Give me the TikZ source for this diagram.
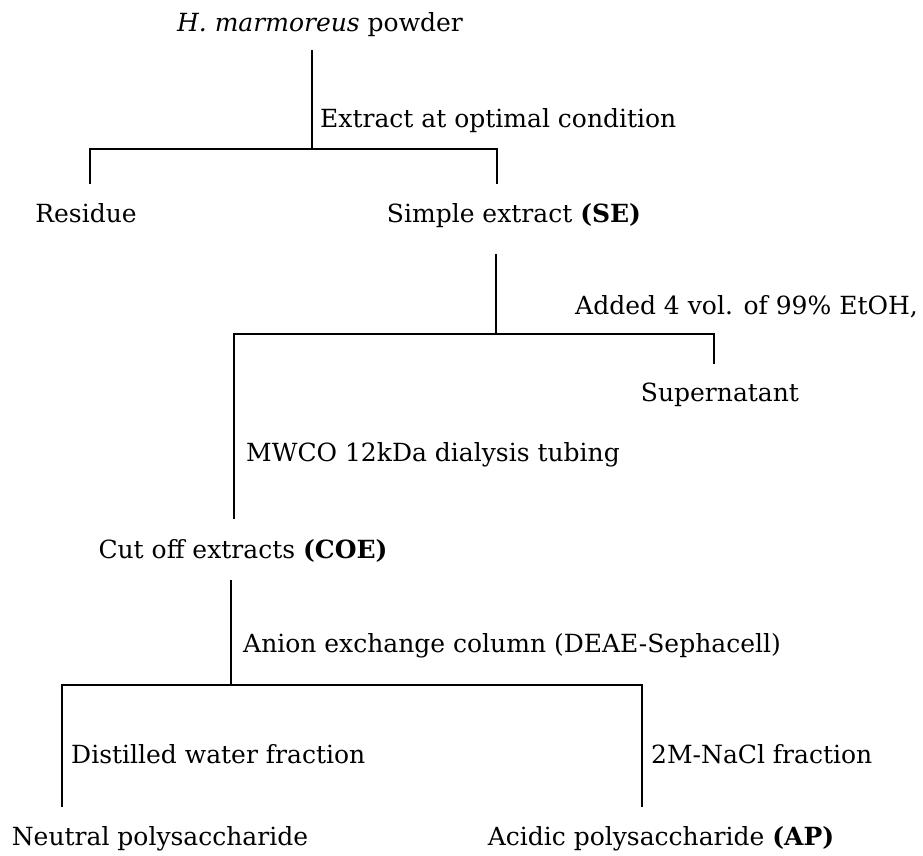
\documentclass[tikz,border=0pt]{standalone}
\usepackage{fontspec}
\setmainfont{DejaVu Serif}
\begin{document}
\begin{tikzpicture}[x=1pt,y=-1pt,
  txt/.style={inner sep=0pt, font=\fontsize{25}{29}\selectfont},
  lbl/.style={txt, anchor=base west},
  item/.style={txt, anchor=base},
  ln/.style={line width=1.6pt, line cap=butt}]
\useasboundingbox (0,0) rectangle (923,855);
% nodes
\node[item] (hm)  at (320,31)  {\textit{H. marmoreus} powder};
\node[lbl]  (ext) at (320,127) {Extract at optimal condition};
\node[item] (res) at (86,222)  {Residue};
\node[item] (se)  at (514,222) {Simple extract \textbf{(SE)}};
\node[lbl]  (eth) at (575,314) {Added 4 vol. of 99\% EtOH,};
\node[item] (sup) at (720,401) {Supernatant};
\node[lbl]  (mw)  at (246,461) {MWCO 12kDa dialysis tubing};
\node[item] (coe) at (243,558) {Cut off extracts \textbf{(COE)}};
\node[lbl]  (ani) at (243,652) {Anion exchange column (DEAE-Sephacell)};
\node[lbl]  (dw)  at (71,763)  {Distilled water fraction};
\node[lbl]  (na)  at (651,763) {2M-NaCl fraction};
\node[item] (np)  at (160,845) {Neutral polysaccharide};
\node[item] (ap)  at (661,845) {Acidic polysaccharide \textbf{(AP)}};
% junction coordinates
\coordinate (a0) at (312,50);
\coordinate (a1) at (312,149);
\coordinate (aL) at (90,149);
\coordinate (aR) at (497,149);
\coordinate (aLd) at (90,184);
\coordinate (aRd) at (497,184);
\coordinate (b0) at (496,254);
\coordinate (b1) at (496,334);
\coordinate (bL) at (234,334);
\coordinate (bR) at (714,334);
\coordinate (bRd) at (714,364);
\coordinate (bLd) at (234,519);
\coordinate (c0) at (231,580);
\coordinate (c1) at (231,685);
\coordinate (cL) at (62,685);
\coordinate (cR) at (642,685);
\coordinate (cLd) at (62,807);
\coordinate (cRd) at (642,807);
% connectors
\draw[ln] (a0) -- (a1);
\draw[ln] (aLd) -- (aL) -- (aR) -- (aRd);
\draw[ln] (b0) -- (b1);
\draw[ln] (bLd) -- (bL) -- (bR) -- (bRd);
\draw[ln] (c0) -- (c1);
\draw[ln] (cLd) -- (cL) -- (cR) -- (cRd);
\end{tikzpicture}
\end{document}
